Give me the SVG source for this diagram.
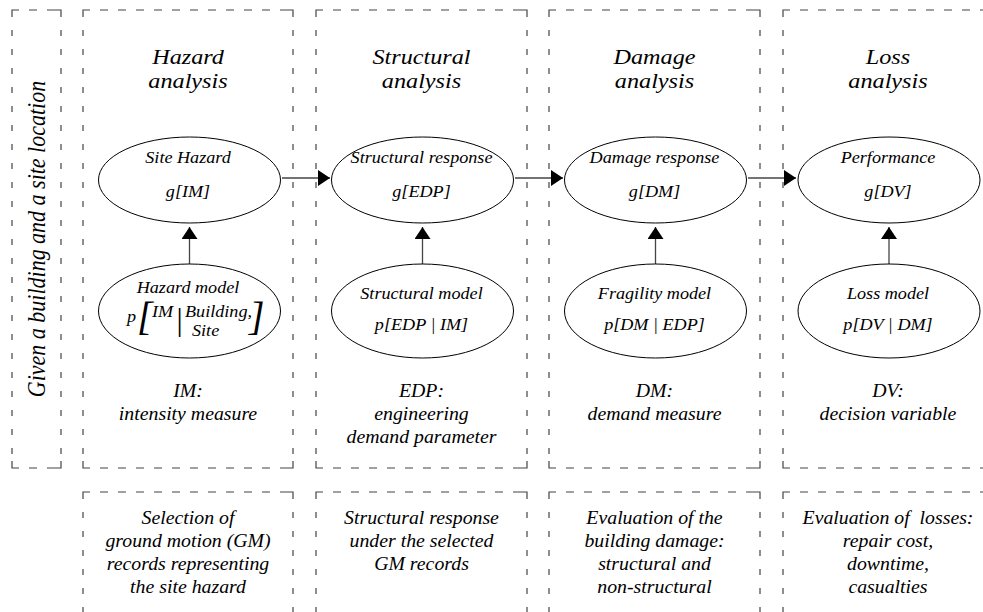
<svg xmlns="http://www.w3.org/2000/svg" width="983" height="612" viewBox="0 0 983 612">
<style>
.t{font-family:"Liberation Serif","Times New Roman",serif;font-style:italic;fill:#000;text-anchor:middle}
.st{text-anchor:start}
.ttl{font-size:22px}
.nl{font-size:16.5px}
.lab{font-size:18px}
.cn{fill:none;stroke:#444;stroke-width:1.2}
.dh{fill:none;stroke:#444;stroke-width:1.2;stroke-dasharray:8 10}
.dv{fill:none;stroke:#444;stroke-width:1.2;stroke-dasharray:6 13}
.ell{fill:#fff;stroke:#000;stroke-width:1}
.conn{fill:none;stroke:#444;stroke-width:1.3}
</style>
<defs>
<marker id="ah" markerUnits="userSpaceOnUse" markerWidth="12" markerHeight="16" refX="12" refY="8" orient="auto">
<path d="M0,0 L12,8 L0,16 Z" fill="#000"/>
</marker>
</defs>
<rect width="983" height="612" fill="#fff"/>

<g id="lane-given">
<path class="cn" d="M19 10H12V17M54 10H61V17M61 461V468H54M12 461V468H19"/>
<path class="dh" d="M29 10H54M29 468H54"/>
<path class="dv" d="M12 30V461M61 30V461"/>
<text class="t" style="font-size:22px" transform="translate(45,239) scale(1.1 1) rotate(-90)">Given a building and a site location</text>
</g>

<g id="lane-hazard">
<path class="cn" d="M90 10H83V17M286 10H293V17M293 461V468H286M83 461V468H90"/>
<path class="dh" d="M100 10H286M100 468H286"/>
<path class="dv" d="M83 30V461M293 30V461"/>
<text class="t ttl" transform="translate(188,64) scale(1.1 1)"><tspan x="0">Hazard</tspan><tspan x="0" dy="24">analysis</tspan></text>
<text class="t lab" transform="translate(188,397) scale(1.1 1)"><tspan x="0">IM:</tspan><tspan x="0" dy="23">intensity measure</tspan></text>
</g>

<g id="lane-structural">
<path class="cn" d="M323 10H316V17M520 10H527V17M527 461V468H520M316 461V468H323"/>
<path class="dh" d="M333 10H520M333 468H520"/>
<path class="dv" d="M316 30V461M527 30V461"/>
<text class="t ttl" transform="translate(421.5,64) scale(1.1 1)"><tspan x="0">Structural</tspan><tspan x="0" dy="24">analysis</tspan></text>
<text class="t lab" transform="translate(421.5,397) scale(1.1 1)"><tspan x="0">EDP:</tspan><tspan x="0" dy="23">engineering</tspan><tspan x="0" dy="23">demand parameter</tspan></text>
</g>

<g id="lane-damage">
<path class="cn" d="M556 10H549V17M753 10H760V17M760 461V468H753M549 461V468H556"/>
<path class="dh" d="M566 10H753M566 468H753"/>
<path class="dv" d="M549 30V461M760 30V461"/>
<text class="t ttl" transform="translate(654.5,64) scale(1.1 1)"><tspan x="0">Damage</tspan><tspan x="0" dy="24">analysis</tspan></text>
<text class="t lab" transform="translate(654.5,397) scale(1.1 1)"><tspan x="0">DM:</tspan><tspan x="0" dy="23">demand measure</tspan></text>
</g>

<g id="lane-loss">
<path class="cn" d="M790 10H783V17M986 10H993V17M993 461V468H986M783 461V468H790"/>
<path class="dh" d="M800 10H986M800 468H986"/>
<path class="dv" d="M783 30V461M993 30V461"/>
<text class="t ttl" transform="translate(888,64) scale(1.1 1)"><tspan x="0">Loss</tspan><tspan x="0" dy="24">analysis</tspan></text>
<text class="t lab" transform="translate(888,397) scale(1.1 1)"><tspan x="0">DV:</tspan><tspan x="0" dy="23">decision variable</tspan></text>
</g>

<g id="note-hazard">
<path class="cn" d="M90 492H83V499M286 492H293V499"/>
<path class="dh" d="M100 492H286"/>
<path class="dv" d="M83 512V620M293 512V620"/>
<text class="t lab" transform="translate(188,524) scale(1.1 1)"><tspan x="0">Selection of</tspan><tspan x="0" dy="23">ground motion (GM)</tspan><tspan x="0" dy="23">records representing</tspan><tspan x="0" dy="23">the site hazard</tspan></text>
</g>

<g id="note-structural">
<path class="cn" d="M323 492H316V499M520 492H527V499"/>
<path class="dh" d="M333 492H520"/>
<path class="dv" d="M316 512V620M527 512V620"/>
<text class="t lab" transform="translate(421.5,524) scale(1.1 1)"><tspan x="0">Structural response</tspan><tspan x="0" dy="23">under the selected</tspan><tspan x="0" dy="23">GM records</tspan></text>
</g>

<g id="note-damage">
<path class="cn" d="M556 492H549V499M753 492H760V499"/>
<path class="dh" d="M566 492H753"/>
<path class="dv" d="M549 512V620M760 512V620"/>
<text class="t lab" transform="translate(654.5,524) scale(1.1 1)"><tspan x="0">Evaluation of the</tspan><tspan x="0" dy="23">building damage:</tspan><tspan x="0" dy="23">structural and</tspan><tspan x="0" dy="23">non-structural</tspan></text>
</g>

<g id="note-loss">
<path class="cn" d="M790 492H783V499M986 492H993V499"/>
<path class="dh" d="M800 492H986"/>
<path class="dv" d="M783 512V620M993 512V620"/>
<text class="t lab" xml:space="preserve" transform="translate(888,524) scale(1.1 1)"><tspan x="0">Evaluation of  losses:</tspan><tspan x="0" dy="23">repair cost,</tspan><tspan x="0" dy="23">downtime,</tspan><tspan x="0" dy="23">casualties</tspan></text>
</g>

<g id="connectors">
<line class="conn" x1="282" y1="178" x2="330" y2="178" marker-end="url(#ah)"/>
<line class="conn" x1="515" y1="178" x2="563" y2="178" marker-end="url(#ah)"/>
<line class="conn" x1="748" y1="178" x2="796" y2="178" marker-end="url(#ah)"/>
<line class="conn" x1="189.5" y1="264" x2="189.5" y2="227" marker-end="url(#ah)"/>
<line class="conn" x1="422.5" y1="264" x2="422.5" y2="227" marker-end="url(#ah)"/>
<line class="conn" x1="655.5" y1="264" x2="655.5" y2="227" marker-end="url(#ah)"/>
<line class="conn" x1="889" y1="264" x2="889" y2="227" marker-end="url(#ah)"/>
</g>

<g id="site-hazard">
<ellipse class="ell" cx="189.5" cy="180" rx="91" ry="43"/>
<text class="t nl" transform="translate(188,163) scale(1.1 1)"><tspan x="0">Site Hazard</tspan><tspan x="0" dy="34">g[IM]</tspan></text>
</g>
<g id="hazard-model">
<ellipse class="ell" cx="189.5" cy="311" rx="91" ry="47"/>
<text class="t nl" transform="translate(188,293) scale(1.1 1)">Hazard model</text>
<text class="t nl st" transform="translate(127,322) scale(1.1 1)">p</text>
<text class="t st" style="font-size:40px" x="137" y="330">[</text>
<text class="t nl st" transform="translate(152,317) scale(1.1 1)">IM</text>
<text class="t" style="font-size:31px;font-style:normal" x="179.5" y="330">|</text>
<text class="t nl st" transform="translate(185,317) scale(1.1 1)">Building,</text>
<text class="t nl st" transform="translate(192,336) scale(1.1 1)">Site</text>
<text class="t st" style="font-size:40px" x="249" y="330">]</text>
</g>

<g id="structural-response">
<ellipse class="ell" cx="422.5" cy="180" rx="91" ry="43"/>
<text class="t nl" transform="translate(421.5,163) scale(1.1 1)"><tspan x="0">Structural response</tspan><tspan x="0" dy="34">g[EDP]</tspan></text>
</g>
<g id="structural-model">
<ellipse class="ell" cx="422.5" cy="311" rx="91" ry="47"/>
<text class="t nl" transform="translate(421.5,299) scale(1.1 1)"><tspan x="0">Structural model</tspan><tspan x="0" dy="31">p[EDP | IM]</tspan></text>
</g>

<g id="damage-response">
<ellipse class="ell" cx="655.5" cy="180" rx="91" ry="43"/>
<text class="t nl" transform="translate(654.5,163) scale(1.1 1)"><tspan x="0">Damage response</tspan><tspan x="0" dy="34">g[DM]</tspan></text>
</g>
<g id="fragility-model">
<ellipse class="ell" cx="655.5" cy="311" rx="91" ry="47"/>
<text class="t nl" transform="translate(654.5,299) scale(1.1 1)"><tspan x="0">Fragility model</tspan><tspan x="0" dy="31">p[DM | EDP]</tspan></text>
</g>

<g id="performance">
<ellipse class="ell" cx="889" cy="180" rx="91" ry="43"/>
<text class="t nl" transform="translate(888,163) scale(1.1 1)"><tspan x="0">Performance</tspan><tspan x="0" dy="34">g[DV]</tspan></text>
</g>
<g id="loss-model">
<ellipse class="ell" cx="889" cy="311" rx="91" ry="47"/>
<text class="t nl" transform="translate(888,299) scale(1.1 1)"><tspan x="0">Loss model</tspan><tspan x="0" dy="31">p[DV | DM]</tspan></text>
</g>
</svg>
